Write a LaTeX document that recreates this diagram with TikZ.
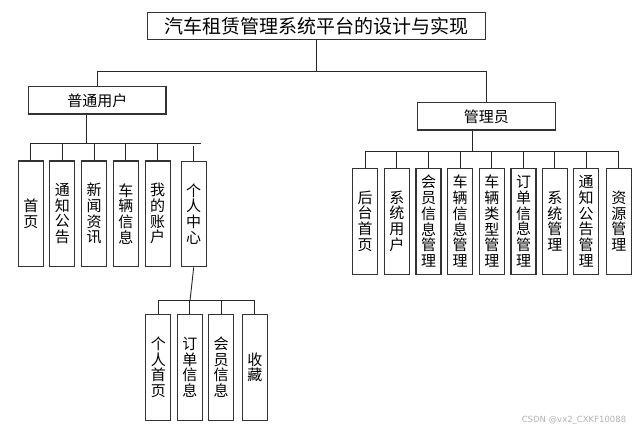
\documentclass[tikz,border=0pt]{standalone}
\usepackage{fontspec}
\newfontfamily\cjk{Noto Sans CJK SC}
\begin{document}
\begin{tikzpicture}[x=1pt,y=-1pt,
  box/.style={draw=black!80,line width=1.1pt,fill=white,inner sep=0pt,font=\cjk\fontsize{15}{15.7}\selectfont},
  hbox/.style={box,minimum height=27.3pt},
  vbox/.style={box,minimum width=25pt,align=center},
  lvbox/.style={vbox,minimum height=105.5pt},
  link/.style={draw=black!85,line width=0.9pt}]
\useasboundingbox (0,0) rectangle (644,431);
% title
\node[box,minimum width=338.4pt,minimum height=27.4pt,font=\cjk\fontsize{19}{20}\selectfont] (title) at (316.5,26) {汽车租赁管理系统平台的设计与实现};
\node[hbox,minimum width=137.3pt] (user) at (97.35,100.35) {普通用户};
\node[hbox,minimum width=138pt] (admin) at (486.3,116.35) {管理员};
% user children
\node[lvbox] (l1) at (30.8,213.7) {首\\页};
\node[lvbox] (l2) at (62.3,213.7) {通\\知\\公\\告};
\node[lvbox] (l3) at (94.2,213.7) {新\\闻\\资\\讯};
\node[lvbox] (l4) at (125.8,213.7) {车\\辆\\信\\息};
\node[lvbox] (l5) at (157.7,213.7) {我\\的\\账\\户};
\node[lvbox] (l6) at (193.7,214) {个\\人\\中\\心};
% admin children
\node[lvbox,minimum height=105.7pt] (r1) at (365.2,221.2) {后\\台\\首\\页};
\node[lvbox,minimum height=105.7pt] (r2) at (396.8,221.2) {系\\统\\用\\户};
\node[lvbox,minimum height=105.7pt] (r3) at (428.5,221.2) {会\\员\\信\\息\\管\\理};
\node[lvbox,minimum height=105.7pt] (r4) at (460.2,221.2) {车\\辆\\信\\息\\管\\理};
\node[lvbox,minimum height=105.7pt] (r5) at (491.8,221.2) {车\\辆\\类\\型\\管\\理};
\node[lvbox,minimum height=105.7pt] (r6) at (523.5,221.2) {订\\单\\信\\息\\管\\理};
\node[lvbox,minimum height=105.7pt] (r7) at (554.8,221.2) {系\\统\\管\\理};
\node[lvbox,minimum height=105.7pt] (r8) at (586.2,221.2) {通\\知\\公\\告\\管\\理};
\node[lvbox,minimum height=105.7pt] (r9) at (618.8,221.2) {资\\源\\管\\理};
% personal center children
\node[lvbox,minimum height=105.7pt] (b1) at (158.3,367.2) {个\\人\\首\\页};
\node[lvbox,minimum height=105.7pt] (b2) at (189.8,367.2) {订\\单\\信\\息};
\node[lvbox,minimum height=105.7pt] (b3) at (221.2,367.2) {会\\员\\信\\息};
\node[lvbox,minimum height=105.7pt] (b4) at (254.8,367.2) {收\\藏};
% watermark
\node[text=black!30,font=\fontspec{DejaVu Sans}\fontsize{8.5}{9}\selectfont,inner sep=0pt] (wm) at (574,420) {CSDN @vx2\_CXKF10088};
% top connectors
\coordinate (tbar) at (0,71);
\draw[link] (title.south) -- (title.south |- tbar);
\draw[link] (user.north) -- (user.north |- tbar) -- (admin.north |- tbar) -- (admin.north);
% user connectors
\coordinate (lbarEnd) at (201,143.3);
\coordinate (utrunk) at ([xshift=-10.65pt]user.south);
\draw[link] (utrunk) -- (utrunk |- lbarEnd);
\draw[link] (l1.north) -- (l1.north |- lbarEnd) -- (lbarEnd);
\foreach \n in {l2,l3,l4,l5}{\draw[link] (\n.north) -- (\n.north |- lbarEnd);}
\draw[link] (l6.north) -- ++(0,-14.3);
% admin connectors
\coordinate (rbar) at (0,151.7);
\coordinate (atrunk) at ([xshift=-14.3pt]admin.south);
\draw[link] (atrunk) -- (atrunk |- rbar);
\draw[link] (r1.north) -- (r1.north |- rbar) -- (r9.north |- rbar) -- (r9.north);
\foreach \n in {r2,r3,r4,r5,r6,r7,r8}{\draw[link] (\n.north) -- (\n.north |- rbar);}
% personal center connectors
\coordinate (bjoin) at (190,300.7);
\draw[link] (l6.south) -- (bjoin);
\draw[link] (b1.north) -- (b1.north |- bjoin) -- (b4.north |- bjoin) -- (b4.north);
\foreach \n in {b2,b3}{\draw[link] (\n.north) -- (\n.north |- bjoin);}
\end{tikzpicture}
\end{document}
